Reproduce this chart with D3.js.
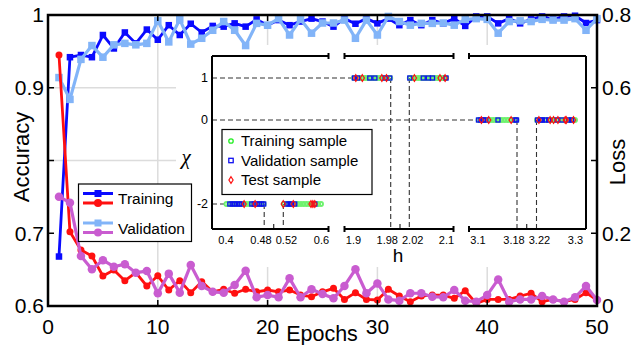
<!DOCTYPE html>
<html>
<head>
<meta charset="utf-8">
<script src="https://cdn.jsdelivr.net/npm/d3@7"></script>
<style>
  body { margin: 0; background: #fff; }
  svg { display: block; font-family: "Liberation Sans", Arial, sans-serif; }
</style>
</head>
<body>
<div class="chart"></div>
<script>
// ---- data ----
var epochs = [1,2,3,4,5,6,7,8,9,10,11,12,13,14,15,16,17,18,19,20,21,22,23,24,25,
  26,27,28,29,30,31,32,33,34,35,36,37,38,39,40,41,42,43,44,45,46,47,48,49,50];

var trainAcc = [0.668, 0.942, 0.945, 0.942, 0.9725, 0.954, 0.976, 0.961, 0.980, 0.966,
  0.986, 0.9725, 0.988, 0.976, 0.985, 0.984, 0.9885, 0.984, 0.994, 0.986,
  0.993, 0.986, 0.991, 0.995, 0.991, 0.984, 0.995, 0.988, 0.995, 0.9885,
  0.995, 0.986, 0.993, 0.986, 0.993, 0.9885, 0.995, 0.985, 0.998, 0.998,
  0.9885, 0.995, 0.9885, 0.994, 0.998, 0.994, 0.998, 0.999, 0.989, 0.993];

var valAcc = [0.914, 0.884, 0.939, 0.958, 0.942, 0.959, 0.961, 0.959, 0.961, 0.992,
  0.963, 0.994, 0.960, 0.968, 0.979, 0.991, 0.979, 0.958, 0.9885, 0.986,
  0.995, 0.9725, 0.994, 0.975, 0.989, 0.989, 0.993, 0.968, 0.993, 0.9725,
  0.998, 0.991, 0.986, 0.9885, 0.9885, 0.989, 0.986, 0.994, 0.995, 0.994,
  0.975, 0.991, 0.992, 0.991, 0.994, 0.993, 0.993, 0.995, 0.979, 0.995];

var trainLoss = [0.690, 0.204, 0.154, 0.1375, 0.0825, 0.099, 0.0696, 0.0916, 0.055, 0.083,
  0.044, 0.0696, 0.0367, 0.067, 0.039, 0.046, 0.035, 0.046, 0.039, 0.044,
  0.039, 0.044, 0.030, 0.0256, 0.039, 0.0486, 0.018, 0.0367, 0.018, 0.0165,
  0.046, 0.0275, 0.012, 0.0275, 0.030, 0.030, 0.021, 0.042, 0.0073, 0.018,
  0.018, 0.018, 0.0275, 0.035, 0.012, 0.018, 0.012, 0.018, 0.0367, 0.0165];

var valLoss = [0.3005, 0.284, 0.1375, 0.101, 0.126, 0.108, 0.115, 0.0916, 0.096, 0.035,
  0.089, 0.0367, 0.113, 0.055, 0.039, 0.0367, 0.0577, 0.097, 0.024, 0.030,
  0.024, 0.076, 0.024, 0.046, 0.033, 0.021, 0.055, 0.101, 0.035, 0.062,
  0.018, 0.0147, 0.035, 0.035, 0.0256, 0.024, 0.044, 0.0147, 0.012, 0.030,
  0.073, 0.012, 0.018, 0.018, 0.0275, 0.018, 0.012, 0.024, 0.055, 0.0165];

var xTicks = [0, 10, 20, 30, 40, 50];
var accTicks = [0.6, 0.7, 0.8, 0.9, 1];
var accTickLabels = ["0.6", "0.7", "", "0.9", "1"];
var lossTicks = [0, 0.2, 0.4, 0.6, 0.8];
var lossTickLabels = ["0", "0.2", "", "0.6", "0.8"];

// inset: chi vs h (broken axis)
var hSegments = [[0.4, 0.6], [1.9, 2.1], [3.1, 3.3]];
// [value, side]: side -1 = sits left of the minor tick, 1 = right of it, 0 = centred on its own tick
var hTicks = [[0.4, 0], [0.48, -1], [0.52, 1], [0.6, 0], [1.9, 0], [1.98, -1], [2.02, 1], [2.1, 0],
  [3.1, 0], [3.18, -1], [3.22, 1], [3.3, 0]];
var hMinorTicks = [0.5, 2.0, 3.2];
var chiTicks = [-2, 0, 1];
// phase boundaries: [h, chi]
var boundaries = [[0.48, -2], [0.52, -2], [1.98, 1], [2.02, 1], [3.18, 0], [3.22, 0]];
// level lines: [chi, h where samples start]
var levels = [[-2, 0.4], [1, 1.9], [0, 3.1]];

var trainH_m2 = [0.401, 0.407, 0.413, 0.419, 0.425, 0.431, 0.437, 0.443, 0.449, 0.455, 0.461, 0.467, 0.473, 0.479,
  0.521, 0.527, 0.533, 0.539, 0.545, 0.551, 0.557, 0.563, 0.569, 0.575, 0.581, 0.587, 0.593, 0.599];
var trainH_1 = [1.901, 1.907, 1.913, 1.919, 1.925, 1.931, 1.937, 1.943, 1.949, 1.955, 1.961, 1.967, 1.973, 1.979,
  2.021, 2.027, 2.033, 2.039, 2.045, 2.051, 2.057, 2.063, 2.069, 2.075, 2.081, 2.087, 2.093, 2.099];
var trainH_0 = [3.101, 3.107, 3.113, 3.119, 3.125, 3.131, 3.137, 3.143, 3.149, 3.155, 3.161, 3.167, 3.173, 3.179,
  3.221, 3.227, 3.233, 3.239, 3.245, 3.251, 3.257, 3.263, 3.269, 3.275, 3.281, 3.287, 3.293, 3.299];

var valH_m2 = [0.408, 0.413, 0.418, 0.423, 0.428, 0.433, 0.454, 0.459, 0.465, 0.470, 0.475, 0.479,
  0.527, 0.532, 0.537, 0.544, 0.586];
var valH_1 = [1.902, 1.909, 1.935, 1.946, 1.968, 1.978, 2.021, 2.05, 2.061, 2.07, 2.099];
var valH_0 = [3.101, 3.106, 3.111, 3.116, 3.141, 3.176, 3.179,
  3.222, 3.228, 3.232, 3.238, 3.245, 3.262, 3.272, 3.286, 3.292];

var testH_m2 = [0.438, 0.461, 0.520, 0.541, 0.578, 0.582, 0.586];
var testH_1 = [1.905, 1.919, 1.961, 1.971, 2.031, 2.086, 2.097];
var testH_0 = [3.107, 3.122, 3.168, 3.225, 3.248, 3.255, 3.264, 3.279, 3.281, 3.296];

// ---- layout ----
var svgWidth = 631, svgHeight = 345;
var plot = { left: 48, right: 597, top: 15, bottom: 306 };
var inset = { left: 212, right: 586, top: 56, bottom: 229 };

var colors = {
  trainAcc: "#0a0aff",
  valAcc: "#82b4f8",
  trainLoss: "#ff1010",
  valLoss: "#c95cd0"
};

var svg = d3.select(".chart").append("svg")
  .attr("width", svgWidth)
  .attr("height", svgHeight);

var x = d3.scaleLinear().domain([0, 50]).range([plot.left, plot.right]);
var yAcc = d3.scaleLinear().domain([0.6, 1]).range([plot.bottom, plot.top]);
var yLoss = d3.scaleLinear().domain([0, 0.8]).range([plot.bottom, plot.top]);

// grid
var grid = svg.append("g").attr("stroke", "#dcdcdc").attr("stroke-width", 1.5);
grid.selectAll(".vg").data([10, 20, 30, 40]).enter().append("line")
  .attr("x1", d => x(d)).attr("x2", d => x(d))
  .attr("y1", plot.top).attr("y2", plot.bottom);
grid.selectAll(".hg").data([0.8, 0.9]).enter().append("line")
  .attr("x1", plot.left).attr("x2", plot.right)
  .attr("y1", d => yAcc(d)).attr("y2", d => yAcc(d));

// white area behind the inset (covers grid)
svg.append("rect")
  .attr("x", 176).attr("y", 45)
  .attr("width", plot.right - 1 - 176).attr("height", 267 - 45)
  .attr("fill", "#fff");

// ---- inset ----
var hx = d3.scaleLinear()
  .domain([0.4, 0.6, 1.9, 2.1, 3.1, 3.3])
  .range([226, 321.5, 353.5, 446.5, 478, 575.5]);
var cy = d3.scaleLinear().domain([-2, 1]).range([204, 78]);

var ins = svg.append("g");

// dashed guides
var dash = ins.append("g")
  .attr("stroke", "#333").attr("stroke-width", 1.1)
  .attr("stroke-dasharray", "5,3").attr("fill", "none");
dash.selectAll(".lv").data(levels).enter().append("line")
  .attr("x1", inset.left).attr("x2", d => hx(d[1]))
  .attr("y1", d => cy(d[0])).attr("y2", d => cy(d[0]));
dash.selectAll(".bd").data(boundaries).enter().append("line")
  .attr("x1", d => hx(d[0])).attr("x2", d => hx(d[0]))
  .attr("y1", d => cy(d[1])).attr("y2", inset.bottom);

// samples
function pairs(hs, chi) { return hs.map(h => [h, chi]); }
var trainPts = pairs(trainH_m2, -2).concat(pairs(trainH_1, 1), pairs(trainH_0, 0));
var valPts = pairs(valH_m2, -2).concat(pairs(valH_1, 1), pairs(valH_0, 0));
var testPts = pairs(testH_m2, -2).concat(pairs(testH_1, 1), pairs(testH_0, 0));

var diamondPath = "M0,-3.3L2.1,0L0,3.3L-2.1,0Z";

ins.append("g").selectAll("circle").data(trainPts).enter().append("circle")
  .attr("cx", d => hx(d[0])).attr("cy", d => cy(d[1])).attr("r", 2)
  .attr("fill", "none").attr("stroke", "#6ef26e").attr("stroke-width", 1.9);
ins.append("g").selectAll("rect").data(valPts).enter().append("rect")
  .attr("x", d => hx(d[0]) - 2).attr("y", d => cy(d[1]) - 2)
  .attr("width", 4).attr("height", 4)
  .attr("fill", "none").attr("stroke", "#1010f0").attr("stroke-width", 1.3);
ins.append("g").selectAll("path").data(testPts).enter().append("path")
  .attr("d", diamondPath)
  .attr("transform", d => `translate(${hx(d[0])},${cy(d[1])})`)
  .attr("fill", "none").attr("stroke", "#ff1010").attr("stroke-width", 1.2);

// inset frame with broken x axis
var frame = ins.append("g").attr("stroke", "#000").attr("stroke-width", 2).attr("fill", "none");
var segPx = hSegments.map(function(s, i) {
  var a = i === 0 ? inset.left : hx(s[0]) - 9;
  var b = i === hSegments.length - 1 ? inset.right : hx(s[1]) + 7;
  return [a, b];
});
frame.append("line").attr("x1", inset.left).attr("x2", inset.left)
  .attr("y1", inset.top).attr("y2", inset.bottom);
frame.append("line").attr("x1", inset.right).attr("x2", inset.right)
  .attr("y1", inset.top).attr("y2", inset.bottom);
[inset.top, inset.bottom].forEach(function(yy) {
  segPx.forEach(function(p, i) {
    frame.append("line").attr("x1", p[0]).attr("x2", p[1]).attr("y1", yy).attr("y2", yy);
    if (i > 0) frame.append("line").attr("x1", p[0]).attr("x2", p[0]).attr("y1", yy - 3).attr("y2", yy + 3);
    if (i < segPx.length - 1) frame.append("line").attr("x1", p[1]).attr("x2", p[1]).attr("y1", yy - 3).attr("y2", yy + 3);
  });
});
frame.selectAll(".mt").data(hMinorTicks).enter().append("line")
  .attr("x1", d => hx(d)).attr("x2", d => hx(d))
  .attr("y1", inset.bottom).attr("y2", inset.bottom - 5)
  .attr("stroke-width", 1);

// tick labels of the broken axis; close pairs are pushed apart around the minor tick
ins.selectAll(".hl").data(hTicks).enter().append("text")
  .attr("x", function(d) {
    if (d[1] === 0) return hx(d[0]);
    var m = hx(hMinorTicks.find(v => Math.abs(v - d[0]) < 0.05));
    return d[1] < 0 ? m - 2 : m + 2;
  })
  .attr("y", inset.bottom + 15)
  .attr("text-anchor", d => d[1] === 0 ? "middle" : (d[1] < 0 ? "end" : "start"))
  .attr("font-size", 11)
  .text(d => d3.format("")(d[0]));
ins.selectAll(".cl").data(chiTicks).enter().append("text")
  .attr("x", inset.left - 4).attr("y", d => cy(d)).attr("dy", "0.35em")
  .attr("text-anchor", "end").attr("font-size", 12.5)
  .text(d => d);
ins.append("text").attr("x", 398).attr("y", 262)
  .attr("text-anchor", "middle").attr("font-size", 19).text("h");
ins.append("text").attr("x", 186).attr("y", 157).attr("dy", "0.35em")
  .attr("text-anchor", "middle").attr("font-size", 21)
  .attr("font-family", "'Liberation Serif', serif").attr("font-style", "italic")
  .text("χ");

// inset legend
var insLeg = ins.append("g");
insLeg.append("rect").attr("x", 222).attr("y", 129.5).attr("width", 150).attr("height", 65)
  .attr("fill", "#fff").attr("stroke", "#000").attr("stroke-width", 1.2);
var insLegItems = ["Training sample", "Validation sample", "Test sample"];
insLegItems.forEach(function(t, i) {
  var yy = 141 + i * 19.5;
  if (i === 0) insLeg.append("circle").attr("cx", 231).attr("cy", yy).attr("r", 2.2)
    .attr("fill", "none").attr("stroke", "#22ee22").attr("stroke-width", 1.3);
  if (i === 1) insLeg.append("rect").attr("x", 228.8).attr("y", yy - 2.2).attr("width", 4.4).attr("height", 4.4)
    .attr("fill", "none").attr("stroke", "#1010f0").attr("stroke-width", 1.3);
  if (i === 2) insLeg.append("path").attr("d", diamondPath).attr("transform", `translate(231,${yy})`)
    .attr("fill", "none").attr("stroke", "#ff1010").attr("stroke-width", 1.2);
  insLeg.append("text").attr("x", 241).attr("y", yy).attr("dy", "0.35em")
    .attr("font-size", 15).text(t);
});

// ---- main series ----
function drawSeries(vals, yScale, color, marker, size, width) {
  var pts = epochs.map((e, i) => [e, vals[i]]);
  var line = d3.line().x(d => x(d[0])).y(d => yScale(d[1]));
  var g = svg.append("g");
  g.append("path").datum(pts).attr("d", line)
    .attr("fill", "none").attr("stroke", color).attr("stroke-width", width)
    .attr("stroke-linejoin", "round");
  if (marker === "square") {
    g.selectAll("rect").data(pts).enter().append("rect")
      .attr("x", d => x(d[0]) - size / 2).attr("y", d => yScale(d[1]) - size / 2)
      .attr("width", size).attr("height", size).attr("fill", color);
  } else {
    g.selectAll("circle").data(pts).enter().append("circle")
      .attr("cx", d => x(d[0])).attr("cy", d => yScale(d[1]))
      .attr("r", size / 2).attr("fill", color);
  }
}
drawSeries(trainAcc, yAcc, colors.trainAcc, "square", 6.5, 2.8);
drawSeries(valAcc, yAcc, colors.valAcc, "square", 7.5, 3.2);
drawSeries(trainLoss, yLoss, colors.trainLoss, "circle", 7, 2.8);
drawSeries(valLoss, yLoss, colors.valLoss, "circle", 8.5, 3.2);

// ---- frame & axes ----
var tickLen = 6;
var fr = svg.append("g").attr("stroke", "#000").attr("fill", "none");
fr.append("rect").attr("x", plot.left).attr("y", plot.top)
  .attr("width", plot.right - plot.left).attr("height", plot.bottom - plot.top)
  .attr("stroke-width", 2.5);
fr.selectAll(".tb").data(xTicks.slice(1, -1)).enter().append("line")
  .attr("x1", d => x(d)).attr("x2", d => x(d))
  .attr("y1", plot.bottom).attr("y2", plot.bottom - tickLen).attr("stroke-width", 1.5);
fr.selectAll(".tt").data(xTicks.slice(1, -1)).enter().append("line")
  .attr("x1", d => x(d)).attr("x2", d => x(d))
  .attr("y1", plot.top).attr("y2", plot.top + tickLen).attr("stroke-width", 1.5);
fr.selectAll(".tl").data(accTicks.slice(1, -1)).enter().append("line")
  .attr("x1", plot.left).attr("x2", plot.left + tickLen)
  .attr("y1", d => yAcc(d)).attr("y2", d => yAcc(d)).attr("stroke-width", 1.5);
fr.selectAll(".tr").data(lossTicks.slice(1, -1)).enter().append("line")
  .attr("x1", plot.right).attr("x2", plot.right - tickLen)
  .attr("y1", d => yLoss(d)).attr("y2", d => yLoss(d)).attr("stroke-width", 1.5);

var labels = svg.append("g").attr("font-size", 21).attr("fill", "#000");
labels.selectAll(".xl").data(xTicks).enter().append("text")
  .attr("x", d => x(d)).attr("y", 334).attr("text-anchor", "middle")
  .text(d => d);
labels.selectAll(".yl").data(accTicks).enter().append("text")
  .attr("x", plot.left - 4).attr("y", d => yAcc(d)).attr("dy", "0.35em")
  .attr("text-anchor", "end").text((d, i) => accTickLabels[i]);
labels.selectAll(".rl").data(lossTicks).enter().append("text")
  .attr("x", plot.right + 5).attr("y", d => yLoss(d)).attr("dy", "0.35em")
  .attr("text-anchor", "start").text((d, i) => lossTickLabels[i]);

labels.append("text").attr("x", 322).attr("y", 341).attr("text-anchor", "middle")
  .attr("font-size", 21.5).text("Epochs");
labels.append("text").attr("transform", "translate(21,157) rotate(-90)")
  .attr("text-anchor", "middle").attr("dy", "0.35em").attr("font-size", 22).text("Accuracy");
labels.append("text").attr("transform", "translate(617,162) rotate(-90)")
  .attr("text-anchor", "middle").attr("dy", "0.35em").attr("font-size", 22).text("Loss");

// ---- main legend ----
var leg = svg.append("g");
leg.append("rect").attr("x", 78.5).attr("y", 184).attr("width", 113).attr("height", 57.5)
  .attr("fill", "#fff").attr("stroke", "#000").attr("stroke-width", 1.2);
var legItems = [
  { label: "Training", acc: colors.trainAcc, loss: colors.trainLoss, y: 193.5 },
  { label: "Validation", acc: colors.valAcc, loss: colors.valLoss, y: 223 }
];
legItems.forEach(function(it) {
  leg.append("line").attr("x1", 83).attr("x2", 113).attr("y1", it.y).attr("y2", it.y)
    .attr("stroke", it.acc).attr("stroke-width", 3);
  leg.append("rect").attr("x", 98 - 3.5).attr("y", it.y - 3.5).attr("width", 7).attr("height", 7)
    .attr("fill", it.acc);
  leg.append("line").attr("x1", 83).attr("x2", 113).attr("y1", it.y + 9.5).attr("y2", it.y + 9.5)
    .attr("stroke", it.loss).attr("stroke-width", 3);
  leg.append("circle").attr("cx", 98).attr("cy", it.y + 9.5).attr("r", 4)
    .attr("fill", it.loss);
  leg.append("text").attr("x", 118).attr("y", it.y + 5.5).attr("dy", "0.35em")
    .attr("font-size", 15.5).text(it.label);
});
</script>
</body>
</html>
